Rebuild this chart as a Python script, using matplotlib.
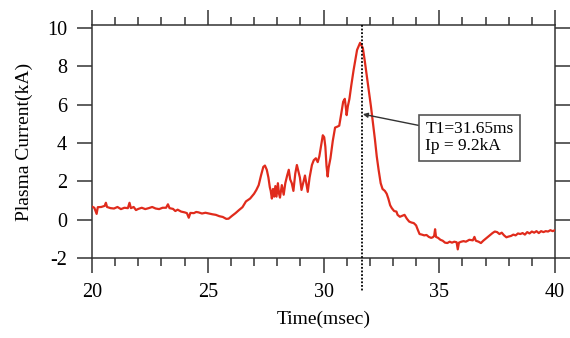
import matplotlib
matplotlib.use("Agg")
import matplotlib.pyplot as plt
from matplotlib.ticker import MultipleLocator
import matplotlib.transforms as mtransforms

plt.rcParams['font.family'] = ['Liberation Serif', 'DejaVu Serif']
plt.rcParams['axes.unicode_minus'] = False

# time (ms)
time_ms = [20.0, 20.1, 20.2, 20.25, 20.4, 20.55, 20.6, 20.65, 20.8, 20.95, 21.1, 21.25, 21.4, 21.55,
           21.62, 21.68, 21.8, 21.9, 22.0, 22.15, 22.3, 22.45, 22.6, 22.75, 22.9, 23.05, 23.2, 23.28,
           23.35, 23.5, 23.6, 23.7, 23.85, 24.0, 24.1, 24.18, 24.25, 24.4, 24.5, 24.6, 24.75, 24.9,
           25.05, 25.2, 25.35, 25.5, 25.65, 25.8, 25.9, 26.05, 26.2, 26.35, 26.5, 26.65, 26.83, 27.0,
           27.1, 27.2, 27.3, 27.4, 27.47, 27.55, 27.62, 27.68, 27.72, 27.77, 27.82, 27.87, 27.92,
           27.97, 28.03, 28.08, 28.12, 28.2, 28.28, 28.35, 28.43, 28.5, 28.56, 28.63, 28.7, 28.78,
           28.85, 28.92, 28.98, 29.05, 29.12, 29.2, 29.27, 29.32, 29.4, 29.5, 29.58, 29.67, 29.75,
           29.82, 29.9, 29.97, 30.03, 30.08, 30.13, 30.18, 30.22, 30.3, 30.4, 30.5, 30.6, 30.68,
           30.75, 30.85, 30.92, 30.97, 31.0, 31.05, 31.12, 31.2, 31.3, 31.45, 31.58, 31.7,
           31.78, 31.87, 31.95, 32.05, 32.15, 32.22, 32.3, 32.38, 32.47, 32.55, 32.65, 32.73, 32.8,
           32.88, 32.95, 33.05, 33.15, 33.2, 33.3, 33.4, 33.5, 33.6, 33.7, 33.8, 33.9, 34.0, 34.08,
           34.15, 34.25, 34.35, 34.45, 34.55, 34.65, 34.72, 34.78, 34.82, 34.86, 34.95, 35.05,
           35.15, 35.25, 35.35, 35.45, 35.55, 35.65, 35.75, 35.8, 35.85, 35.95, 36.05, 36.15, 36.3,
           36.45, 36.52, 36.58, 36.7, 36.8, 36.9, 37.0, 37.1, 37.2, 37.3, 37.4, 37.5, 37.6, 37.7,
           37.8, 37.9, 38.0, 38.1, 38.2, 38.3, 38.4, 38.5, 38.6, 38.7, 38.8, 38.9, 39.0, 39.1, 39.2,
           39.3, 39.4, 39.5, 39.6, 39.7, 39.8, 39.9, 40.0]

# plasma current (kA)
current_ka = [0.68, 0.62, 0.30, 0.65, 0.66, 0.72, 0.88, 0.66, 0.60, 0.58, 0.66, 0.55, 0.62, 0.60,
              0.88, 0.60, 0.66, 0.50, 0.56, 0.62, 0.55, 0.60, 0.66, 0.58, 0.55, 0.62, 0.62, 0.80,
              0.60, 0.56, 0.45, 0.52, 0.42, 0.38, 0.34, 0.10, 0.35, 0.34, 0.40, 0.38, 0.32, 0.36,
              0.32, 0.28, 0.25, 0.18, 0.14, 0.04, 0.05, 0.20, 0.34, 0.50, 0.65, 0.95, 1.10, 1.35,
              1.55, 1.80, 2.30, 2.75, 2.82, 2.60, 2.20, 1.70, 1.50, 1.10, 1.60, 1.20, 1.75,
              1.20, 1.90, 1.35, 1.15, 1.80, 1.30, 1.90, 2.30, 2.60, 2.10, 1.90, 1.50, 2.40,
              2.85, 2.50, 2.20, 1.55, 1.90, 2.30, 1.80, 1.45, 2.20, 2.85, 3.10, 3.20, 3.00,
              3.30, 3.90, 4.40, 4.30, 3.80, 2.80, 2.25, 2.70, 3.20, 4.10, 4.80, 4.85, 4.90,
              5.40, 6.15, 6.30, 5.80, 5.45, 5.90, 6.30, 7.00, 7.80, 8.85, 9.22, 8.95,
              8.30, 7.50, 6.80, 5.90, 4.90, 4.20, 3.30, 2.60, 1.90, 1.60, 1.50, 1.35, 1.10,
              0.75, 0.60, 0.45, 0.42, 0.25, 0.15, 0.20, 0.25, 0.05, -0.10, -0.15, -0.18, -0.30, -0.55,
              -0.75, -0.78, -0.82, -0.80, -0.90, -0.95, -0.92, -0.85, -0.50, -0.90, -0.95, -1.05,
              -1.10, -1.20, -1.22, -1.15, -1.20, -1.15, -1.18, -1.55, -1.20, -1.15, -1.12, -1.15, -1.05,
              -1.08, -0.90, -1.10, -1.15, -1.22, -1.10, -1.00, -0.90, -0.80, -0.70, -0.62, -0.65, -0.75, -0.68,
              -0.82, -0.92, -0.88, -0.85, -0.78, -0.82, -0.72, -0.75, -0.70, -0.78, -0.65, -0.72, -0.62, -0.68, -0.60,
              -0.70, -0.60, -0.65, -0.60, -0.62, -0.55, -0.60, -0.55]

T1 = 31.65
IP = 9.2
x_ticks = [20, 25, 30, 35, 40]
y_ticks = [-2, 0, 2, 4, 6, 8, 10]
annotation_text = "T1=31.65ms\nIp = 9.2kA"

fig = plt.figure(figsize=(5.7, 3.38), dpi=100)
ax = fig.add_axes([92/570, 1 - 258/338, (555 - 92)/570, (258 - 25)/338])

ax.plot(time_ms, current_ka, color='#e02b1c', lw=1.6, zorder=3)

ax.set_xlim(20, 40)
ax.set_ylim(-2, 10.15)
ax.set_xticks(x_ticks)
ax.set_yticks(y_ticks)
ax.xaxis.set_minor_locator(MultipleLocator(1))

for s in ax.spines.values():
    s.set_linewidth(1.1)
    s.set_color('#333333')

ax.tick_params(axis='x', which='major', direction='out', length=11, width=1.1,
               top=True, bottom=True, labeltop=False, labelsize=14.5, pad=7, color='#333333')
ax.tick_params(axis='x', which='minor', direction='out', length=6, width=1.1,
               top=True, bottom=True, color='#333333')
ax.tick_params(axis='y', which='major', direction='out', length=11, width=1.1,
               left=True, right=True, labelright=False, labelsize=14.5, pad=7, color='#333333')

ax.set_xlabel('Time(msec)', fontsize=14, labelpad=6)
ax.set_ylabel('Plasma Current(kA)', fontsize=14, labelpad=10)

# dotted marker line at T1, extending below the axis
trans = mtransforms.blended_transform_factory(ax.transData, ax.transAxes)
ax.plot([T1, T1], [1.0, -0.146], transform=trans, color='black', lw=1.3,
        linestyle=(0, (1, 1)), clip_on=False, zorder=4)

# annotation box with arrow
ax.annotate('', xy=(T1 + 0.05, 5.5), xytext=(34.17, 4.9),
            arrowprops=dict(arrowstyle='-|>', color='#333333', lw=1.0,
                            mutation_scale=7, shrinkA=0, shrinkB=0), zorder=5)
ax.text(36.3, 4.28, annotation_text, fontsize=12.5, ha='center', va='center',
        multialignment='left', linespacing=1.15,
        bbox=dict(boxstyle='square,pad=0.35', fc='white', ec='#555555', lw=1.2), zorder=5)

fig.savefig('out.png', dpi=100)
